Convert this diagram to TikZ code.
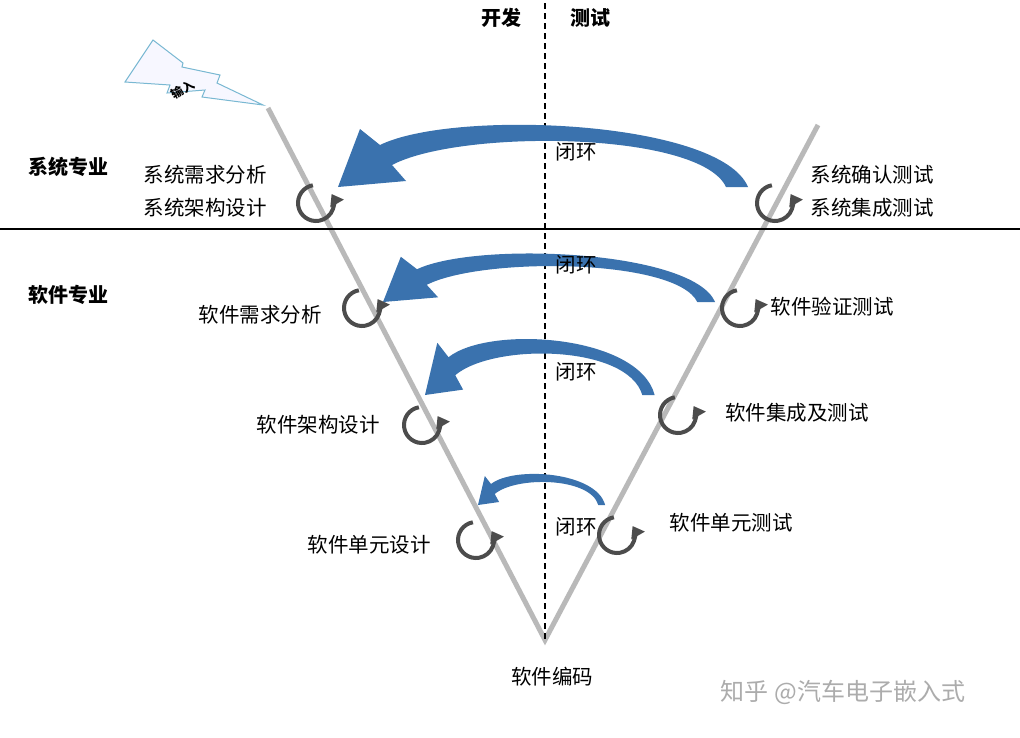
\documentclass[tikz,border=0pt]{standalone}
\usepackage{fontspec}
\newfontfamily\cjk{Noto Sans CJK SC}
\usetikzlibrary{arrows.meta,calc}
\definecolor{vblue}{HTML}{3A72AE}
\tikzset{
 lbl/.style={font=\cjk\fontsize{20.5}{20.5}\selectfont, inner sep=0pt},
 hdr/.style={font=\cjk\bfseries\fontsize{20}{20}\selectfont, inner sep=0pt},
 vline/.style={line width=5pt, draw=gray!55},
 loopc/.style={line width=4pt, draw=black!70, -{Triangle[length=11pt,width=15pt]}},
}
\newcommand{\bluearrow}[4]{%
 \begin{scope}[shift={(#1,#2)}, xscale=#3, yscale=#4]
  \fill[vblue] (410,0) .. controls (382,-67) and (115,-78) .. (42,-42) -- (22,-58) -- (0,0) -- (68,-6) -- (54,-22) .. controls (122,-58) and (362,-56) .. (388,0) -- cycle;
 \end{scope}}
\newcommand{\loopat}[3]{%
 \coordinate (#1) at (#2,#3);
 \draw[loopc] ($(#1)+(-100:18)$) arc[start angle=-100,end angle=-390,radius=18];}
\begin{document}
\begin{tikzpicture}[x=1pt,y=-1pt]
\useasboundingbox (0,0) rectangle (1020,737);
\fill[white] (0,0) rectangle (1020,737);
\coordinate (top1) at (268,108);
\coordinate (bot) at (545,640);
\coordinate (top2) at (818,125);
\draw[vline] (top1) -- (bot) -- (top2);
\filldraw[fill=blue!3, draw=blue!30!cyan!50!gray!70, line width=1pt] (153,40) -- (183,63) -- (182,67) -- (220,75) -- (217,83) -- (263,105) -- (202,97) -- (205,90) -- (167,93) -- (170,85) -- (125,82) -- cycle;
\node[font=\cjk\bfseries\fontsize{12}{12}\selectfont, inner sep=0pt, rotate=30] (inp) at (183,89) {输入};
\draw[dash pattern=on 6pt off 4pt, line width=1.4pt] (545,3) -- (545,640);
\draw[line width=2.5pt] (0,229) -- (1020,229);
\bluearrow{338}{187}{1}{1}
\bluearrow{383}{302}{0.81}{0.78}
\bluearrow{425}{395}{0.56}{0.9}
\bluearrow{478}{505}{0.31}{0.5}
\loopat{l1}{316}{203}
\loopat{l2}{362}{308}
\loopat{l3}{422}{425}
\loopat{l4}{476}{540}
\loopat{r1}{775}{203}
\loopat{r2}{740}{308}
\loopat{r3}{678}{415}
\loopat{r4}{617}{535}
\node[hdr] (kf) at (501,18) {开发};
\node[hdr] (cs) at (590,18) {测试};
\node[hdr] (xt) at (68,167) {系统专业};
\node[hdr] (rj) at (68,295) {软件专业};
\node[lbl] (a1) at (205,175) {系统需求分析};
\node[lbl] (a2) at (205,208) {系统架构设计};
\node[lbl] (a3) at (260,315) {软件需求分析};
\node[lbl] (a4) at (318,425) {软件架构设计};
\node[lbl] (a5) at (369,545) {软件单元设计};
\node[lbl] (b1) at (872,175) {系统确认测试};
\node[lbl] (b2) at (872,208) {系统集成测试};
\node[lbl] (b3) at (832,307) {软件验证测试};
\node[lbl] (b4) at (797,413) {软件集成及测试};
\node[lbl] (b5) at (731,523) {软件单元测试};
\node[lbl] (c0) at (552,677) {软件编码};
\node[lbl] (h1) at (576,152) {闭环};
\node[lbl] (h2) at (576,265) {闭环};
\node[lbl] (h3) at (576,372) {闭环};
\node[lbl] (h4) at (576,527) {闭环};
\node[lbl, text=gray!65, font=\cjk\fontsize{24}{24}\selectfont] (wm) at (843,692) {知乎 @汽车电子嵌入式};
\end{tikzpicture}
\end{document}
